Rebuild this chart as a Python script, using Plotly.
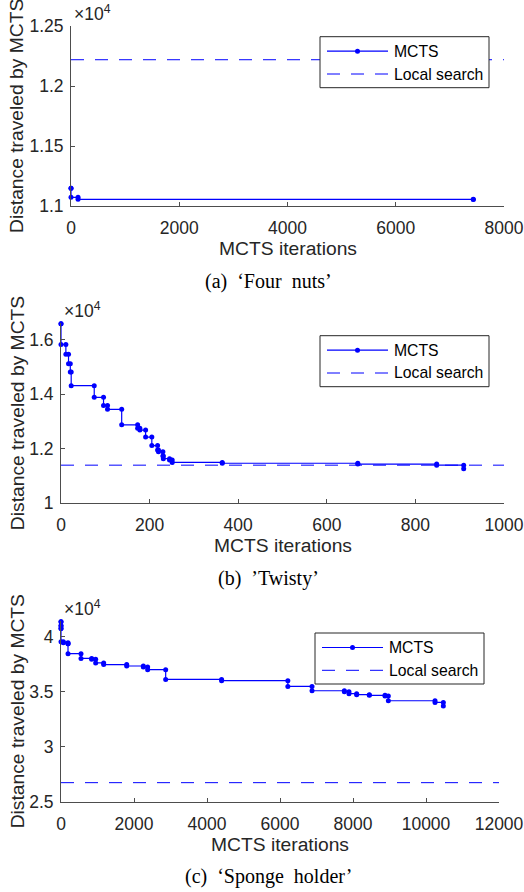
import plotly.graph_objects as go

W, H = 524, 892

# ---------------- data ----------------
# (a) 'Four nuts'
four_iter = [0, 0, 130, 7433]
four_dist = [11147, 11072, 11056, 11055]
four_local = 12219

# (b) 'Twisty'
twisty_iter = [0, 0, 11, 17, 21, 23, 75, 96, 105, 137, 173, 178, 191, 205, 218, 220,
               230, 231, 245, 251, 364, 670, 848, 909]
twisty_dist = [16590, 15830, 15470, 15120, 14820, 14320, 13890, 13590, 13450, 12880,
               12760, 12690, 12430, 12120, 11960, 11890, 11740, 11640, 11590, 11500,
               11470, 11440, 11400, 11270]
twisty_local = 11400

# (c) 'Sponge holder'
sponge_iter = [0, 0, 0, 0, 64, 192, 192, 548, 840, 950, 1169, 1800, 2256, 2374, 2868,
               4400, 6215, 6877, 7763, 7890, 8100, 8447, 8877, 8968, 10247, 10475]
sponge_dist = [41360, 41000, 40750, 39550, 39455, 39360, 38460, 38030, 37960, 37620,
               37470, 37340, 37250, 37000, 36120, 36000, 35480, 35090, 35000, 34820,
               34730, 34670, 34600, 34180, 34030, 33700]
sponge_local = 26730

x_ticks_a = [0, 2000, 4000, 6000, 8000]
y_ticks_a = [11000, 11500, 12000, 12500]
x_ticks_b = [0, 200, 400, 600, 800, 1000]
y_ticks_b = [10000, 12000, 14000, 16000]
x_ticks_c = [0, 2000, 4000, 6000, 8000, 10000, 12000]
y_ticks_c = [25000, 30000, 35000, 40000]

captions = ["(a)\u00a0 \u2018Four\u00a0 nuts\u2019", "(b)\u00a0 \u2019Twisty\u2019",
            "(c)\u00a0 \u2018Sponge\u00a0 holder\u2019"]
series_names = ["MCTS", "Local search"]
x_title = "MCTS iterations"
y_title = "Distance traveled by MCTS"


def fx(p):
    return p / W


def fy(p):
    return 1 - p / H


def stairs(xs, ys):
    sx, sy = [xs[0]], [ys[0]]
    for i in range(1, len(xs)):
        sx += [xs[i], xs[i]]
        sy += [ys[i - 1], ys[i]]
    return sx, sy


def tick_text(v):
    s = ("%.2f" % (v / 1e4)).rstrip("0").rstrip(".")
    return s


BLUE = "#0000ff"
AX = "#4d4d4d"
TXT = "#262626"
SANS = "Liberation Sans, Arial, Helvetica, sans-serif"
SERIF = "Liberation Serif, Times New Roman, serif"
DASH = "13px,11px"

panels = [
    dict(it=four_iter, d=four_dist, loc=four_local, box=(71, 26, 504, 206),
         xr=[0, 8000], xt=x_ticks_a, yr=[11000, 12500], yt=y_ticks_a, leg=(320, 36.7)),
    dict(it=twisty_iter, d=twisty_dist, loc=twisty_local, box=(61, 323, 504, 503.3),
         xr=[0, 1000], xt=x_ticks_b, yr=[10000, 16620], yt=y_ticks_b, leg=(320, 335.7)),
    dict(it=sponge_iter, d=sponge_dist, loc=sponge_local, box=(61, 621, 499, 801.7),
         xr=[0, 12000], xt=x_ticks_c, yr=[25000, 41430], yt=y_ticks_c, leg=(315, 633)),
]

fig = go.Figure()
annotations = []
shapes = []
layout = {}

for k, p in enumerate(panels):
    n = "" if k == 0 else str(k + 1)
    xa, ya = "x" + n, "y" + n
    L, T, R, B = p["box"]
    sx, sy = stairs(p["it"], p["d"])
    fig.add_trace(go.Scatter(x=sx, y=sy, mode="lines+markers", name=series_names[0],
                             line=dict(color=BLUE, width=1.2),
                             marker=dict(color=BLUE, size=5), cliponaxis=False,
                             xaxis=xa, yaxis=ya, showlegend=False))
    fig.add_trace(go.Scatter(x=p["xr"], y=[p["loc"], p["loc"]], mode="lines",
                             name=series_names[1],
                             line=dict(color=BLUE, width=1, dash=DASH),
                             xaxis=xa, yaxis=ya, showlegend=False))
    axcommon = dict(showline=True, linecolor=AX, linewidth=1, ticks="inside", ticklen=4,
                    tickcolor=AX, tickwidth=1, showgrid=False, zeroline=False,
                    automargin=False,
                    tickfont=dict(family=SANS, size=17.5, color=TXT))
    layout["xaxis" + n] = dict(domain=[fx(L), fx(R)], range=p["xr"], tickvals=p["xt"],
                               ticktext=[str(v) for v in p["xt"]], anchor=ya,
                               ticklabelstandoff=6, **axcommon)
    layout["yaxis" + n] = dict(domain=[fy(B), fy(T)], range=p["yr"], tickvals=p["yt"],
                               ticktext=[tick_text(v) for v in p["yt"]], anchor=xa,
                               ticklabelstandoff=3, **axcommon)
    # exponent label
    annotations.append(dict(text="\u00d710<sup>4</sup>", x=fx(L + 1), y=fy(T), xref="paper",
                            yref="paper", xanchor="left", yanchor="bottom", showarrow=False,
                            font=dict(family=SANS, size=17.5, color=TXT)))
    # axis titles
    annotations.append(dict(text=x_title, x=fx((L + R) / 2), y=fy(B + 42.6), xref="paper",
                            yref="paper", xanchor="center", yanchor="middle", showarrow=False,
                            font=dict(family=SANS, size=19.25, color=TXT)))
    annotations.append(dict(text=y_title, x=fx(17), y=fy((T + B) / 2), xref="paper",
                            yref="paper", xanchor="center", yanchor="middle", showarrow=False,
                            textangle=-90, font=dict(family=SANS, size=19.25, color=TXT)))
    # caption
    annotations.append(dict(text=captions[k], x=fx(268), y=fy(B + 75), xref="paper",
                            yref="paper", xanchor="center", yanchor="middle", showarrow=False,
                            font=dict(family=SERIF, size=20, color="black")))
    # legend box (drawn)
    lx, ly = p["leg"]
    shapes.append(dict(type="rect", xref="paper", yref="paper", x0=fx(lx), x1=fx(lx + 169),
                       y0=fy(ly + 51), y1=fy(ly), line=dict(color=TXT, width=1),
                       fillcolor="white", layer="above"))
    r1, r2 = ly + 14.5, ly + 37.3
    shapes.append(dict(type="line", xref="paper", yref="paper", x0=fx(lx + 7), x1=fx(lx + 68),
                       y0=fy(r1), y1=fy(r1), line=dict(color=BLUE, width=1.2), layer="above"))
    shapes.append(dict(type="circle", xref="paper", yref="paper", xsizemode="pixel",
                       ysizemode="pixel", xanchor=fx(lx + 37.5), yanchor=fy(r1),
                       x0=-2.5, x1=2.5, y0=-2.5, y1=2.5, fillcolor=BLUE,
                       line=dict(color=BLUE, width=0), layer="above"))
    shapes.append(dict(type="line", xref="paper", yref="paper", x0=fx(lx + 7), x1=fx(lx + 68),
                       y0=fy(r2), y1=fy(r2), line=dict(color=BLUE, width=1, dash=DASH),
                       layer="above"))
    for txt, ry in zip(series_names, [r1, r2]):
        annotations.append(dict(text=txt, x=fx(lx + 72), y=fy(ry), xref="paper", yref="paper",
                                xanchor="left", yanchor="middle", showarrow=False,
                                font=dict(family=SANS, size=15.75, color="black")))

fig.update_layout(width=W, height=H, margin=dict(l=0, r=0, t=0, b=0),
                  paper_bgcolor="white", plot_bgcolor="white", showlegend=False,
                  annotations=annotations, shapes=shapes, **layout)

page_fix = ("document.documentElement.style.margin='0';"
            "document.documentElement.style.overflow='hidden';"
            "document.body.style.margin='0';document.body.style.padding='0';"
            "document.body.style.overflow='hidden';")

fig.write_html("out.html", post_script=page_fix,
               config={"displayModeBar": False, "staticPlot": True})
